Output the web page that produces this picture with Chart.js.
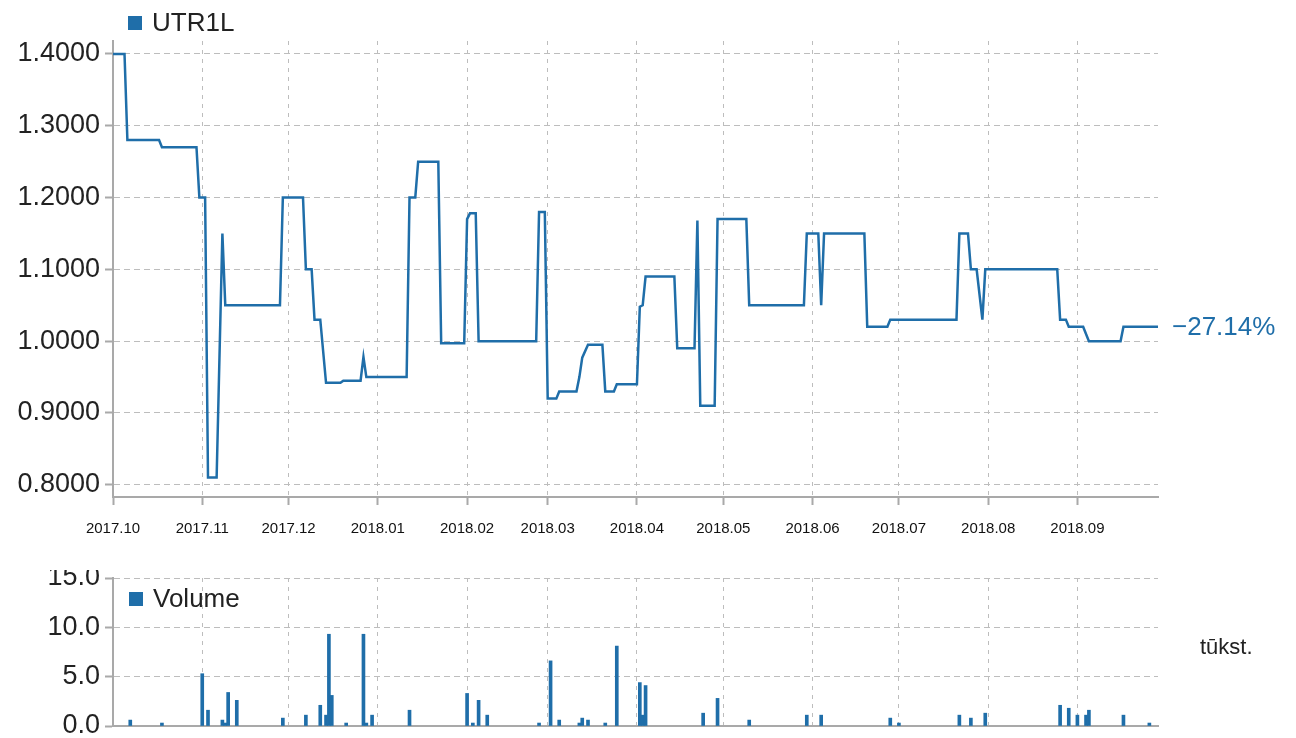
<!DOCTYPE html>
<html>
<head>
<meta charset="utf-8">
<script src="https://cdn.jsdelivr.net/npm/chart.js@4.4.0/dist/chart.umd.min.js"></script>
<style>
  html, body { margin: 0; padding: 0; background: #fff; }
  #top { position: absolute; left: 0; top: 0; width: 1296px; height: 560px; }
  #bottom { position: absolute; left: 0; top: 570px; width: 1296px; height: 168px; }
</style>
</head>
<body>
<div id="top"><canvas id="priceChart"></canvas></div>
<div id="bottom"><canvas id="volumeChart"></canvas></div>
<script>
// --- data ---
const priceDates = [
    '2017-10-01', '2017-10-05', '2017-10-06', '2017-10-17', '2017-10-18', '2017-10-30', '2017-10-31',
    '2017-11-02', '2017-11-03', '2017-11-06', '2017-11-08', '2017-11-09', '2017-11-28', '2017-11-29',
    '2017-12-06', '2017-12-07', '2017-12-09', '2017-12-10', '2017-12-12', '2017-12-14', '2017-12-19',
    '2017-12-20', '2017-12-26', '2017-12-27', '2017-12-28', '2018-01-11', '2018-01-12', '2018-01-14',
    '2018-01-15', '2018-01-22', '2018-01-23', '2018-01-31', '2018-02-01', '2018-02-02', '2018-02-04',
    '2018-02-05', '2018-02-25', '2018-02-26', '2018-02-28', '2018-03-01', '2018-03-04', '2018-03-05',
    '2018-03-11', '2018-03-12', '2018-03-13', '2018-03-15', '2018-03-20', '2018-03-21', '2018-03-24',
    '2018-03-25', '2018-04-01', '2018-04-02', '2018-04-03', '2018-04-04', '2018-04-14', '2018-04-15',
    '2018-04-21', '2018-04-22', '2018-04-23', '2018-04-28', '2018-04-29', '2018-05-09', '2018-05-10',
    '2018-05-29', '2018-05-30', '2018-06-03', '2018-06-04', '2018-06-05', '2018-06-19', '2018-06-20',
    '2018-06-27', '2018-06-28', '2018-07-21', '2018-07-22', '2018-07-25', '2018-07-26', '2018-07-28',
    '2018-07-30', '2018-07-31', '2018-08-25', '2018-08-26', '2018-08-28', '2018-08-29', '2018-09-03',
    '2018-09-05', '2018-09-16', '2018-09-17', '2018-09-29'
];
const priceValues = [
    1.40, 1.40, 1.28, 1.28, 1.27, 1.27, 1.20,
    1.20, 0.81, 0.81, 1.15, 1.05, 1.05, 1.20,
    1.20, 1.10, 1.10, 1.03, 1.03, 0.942, 0.942,
    0.945, 0.945, 0.978, 0.95, 0.95, 1.20, 1.20,
    1.25, 1.25, 0.997, 0.997, 1.17, 1.178, 1.178,
    1.00, 1.00, 1.18, 1.18, 0.92, 0.92, 0.93,
    0.93, 0.95, 0.977, 0.995, 0.995, 0.93, 0.93,
    0.94, 0.94, 1.048, 1.05, 1.09, 1.09, 0.99,
    0.99, 1.168, 0.91, 0.91, 1.17, 1.17, 1.05,
    1.05, 1.15, 1.15, 1.05, 1.15, 1.15, 1.02,
    1.02, 1.03, 1.03, 1.15, 1.15, 1.10, 1.10,
    1.03, 1.10, 1.10, 1.03, 1.03, 1.02, 1.02,
    1.00, 1.00, 1.02, 1.02
];

const volumeDates = [
    '2017-10-07', '2017-10-18', '2017-11-01', '2017-11-03', '2017-11-08', '2017-11-09', '2017-11-10',
    '2017-11-13', '2017-11-29', '2017-12-07', '2017-12-12', '2017-12-14', '2017-12-15', '2017-12-16',
    '2017-12-21', '2017-12-27', '2017-12-28', '2017-12-30', '2018-01-12', '2018-02-01', '2018-02-03',
    '2018-02-05', '2018-02-08', '2018-02-26', '2018-03-02', '2018-03-05', '2018-03-12', '2018-03-13',
    '2018-03-15', '2018-03-21', '2018-03-25', '2018-04-02', '2018-04-03', '2018-04-04', '2018-04-24',
    '2018-04-29', '2018-05-10', '2018-05-30', '2018-06-04', '2018-06-28', '2018-07-01', '2018-07-22',
    '2018-07-26', '2018-07-31', '2018-08-26', '2018-08-29', '2018-09-01', '2018-09-04', '2018-09-05',
    '2018-09-17', '2018-09-26'
];
const volumeValues = [
    0.6, 0.3, 5.3, 1.6, 0.6, 0.3, 3.4,
    2.6, 0.8, 1.1, 2.1, 1.1, 9.3, 3.1,
    0.3, 9.3, 0.3, 1.1, 1.6, 3.3, 0.3,
    2.6, 1.1, 0.3, 6.6, 0.6, 0.3, 0.8,
    0.6, 0.3, 8.1, 4.4, 1.1, 4.1, 1.3,
    2.8, 0.6, 1.1, 1.1, 0.8, 0.3, 1.1,
    0.8, 1.3, 2.1, 1.8, 1.1, 1.1, 1.6,
    1.1, 0.3
];

const monthTicks = ['2017-10-01', '2017-11-01', '2017-12-01', '2018-01-01', '2018-02-01', '2018-03-01',
                    '2018-04-01', '2018-05-01', '2018-06-01', '2018-07-01', '2018-08-01', '2018-09-01'];
const monthLabels = ['2017.10', '2017.11', '2017.12', '2018.01', '2018.02', '2018.03',
                     '2018.04', '2018.05', '2018.06', '2018.07', '2018.08', '2018.09'];
const priceTicks = [0.8, 0.9, 1.0, 1.1, 1.2, 1.3, 1.4];
const volumeTicks = [0, 5, 10, 15];

const startDate = '2017-10-01';
const endDate = '2018-09-29';

// --- helpers ---
const FONT = '"Liberation Sans", Arial, Helvetica, sans-serif';
const BLUE = '#1f6ea9';
const AXIS = '#a9a9a9';
const GRID = '#bdbdbd';

function dayOf(d) {
    return (Date.parse(d) - Date.parse(startDate)) / 86400000;
}

Chart.defaults.font.family = FONT;

// square + dataset name, placed relative to the plot area
const boxLegend = {
    id: 'boxLegend',
    afterDraw(chart, args, opts) {
        const { ctx, chartArea } = chart;
        const x = chartArea.left + opts.dx;
        const y = chartArea.top + opts.dy;
        ctx.save();
        ctx.fillStyle = BLUE;
        ctx.fillRect(x, y - 7, 14, 14);
        ctx.fillStyle = '#222';
        ctx.font = '26px ' + FONT;
        ctx.textBaseline = 'middle';
        ctx.fillText(chart.data.datasets[0].label, x + 24, y + 1);
        ctx.restore();
    }
};

// percentage change printed next to the last price
const changeLabel = {
    id: 'changeLabel',
    afterDraw(chart) {
        const { ctx, chartArea, scales } = chart;
        const first = priceValues[0];
        const last = priceValues[priceValues.length - 1];
        const pct = ((last / first) - 1) * 100;
        const text = (pct < 0 ? '\u2212' : '+') + Math.abs(pct).toFixed(2) + '%';
        ctx.save();
        ctx.fillStyle = BLUE;
        ctx.font = '26px ' + FONT;
        ctx.textBaseline = 'middle';
        ctx.fillText(text, chartArea.right + 14, scales.y.getPixelForValue(last) + 1);
        ctx.restore();
    }
};

// unit text to the right of the volume chart
const unitLabel = {
    id: 'unitLabel',
    afterDraw(chart) {
        const { ctx, chartArea } = chart;
        ctx.save();
        ctx.fillStyle = '#222';
        ctx.font = '22px ' + FONT;
        ctx.textBaseline = 'middle';
        ctx.fillText('tūkst.', chartArea.right + 42, chartArea.top + 70);
        ctx.restore();
    }
};

function monthAxis(showLabels) {
    return {
        type: 'linear',
        min: 0,
        max: dayOf(endDate),
        offset: false,
        afterBuildTicks: function(scale) {
            scale.ticks = monthTicks.map(d => ({ value: dayOf(d) }));
        },
        ticks: {
            display: showLabels,
            autoSkip: false,
            maxRotation: 0,
            padding: 15,
            color: '#111',
            font: { size: 15 },
            callback: function(value, index) {
                return monthLabels[index];
            }
        },
        grid: {
            offset: false,
            color: GRID,
            lineWidth: 1,
            drawTicks: showLabels,
            tickLength: 8,
            tickColor: AXIS,
            tickWidth: 2,
            tickBorderDash: []
        },
        border: { color: AXIS, width: 2, dash: [4, 5] },
        afterFit: function(scale) {
            scale.height = showLabels ? 63 : 0;
        }
    };
}

function valueAxis(min, max, ticks, digits) {
    return {
        min: min,
        max: max,
        afterBuildTicks: function(scale) {
            scale.ticks = ticks.map(v => ({ value: v }));
        },
        ticks: {
            padding: 5,
            color: '#222',
            font: { size: 27, lineHeight: 1 },
            callback: function(value) {
                return value.toFixed(digits);
            }
        },
        grid: {
            color: GRID,
            lineWidth: 1,
            tickLength: 8,
            tickColor: AXIS,
            tickWidth: 2,
            tickBorderDash: []
        },
        border: { color: AXIS, width: 2, dash: [6, 4] },
        afterFit: function(scale) {
            scale.width = 113;
            scale.paddingTop = 0;
            scale.paddingBottom = 0;
        }
    };
}

// --- price chart ---
new Chart(document.getElementById('priceChart'), {
    type: 'line',
    data: {
        datasets: [{
            label: 'UTR1L',
            data: priceDates.map((d, i) => ({ x: dayOf(d), y: priceValues[i] })),
            borderColor: BLUE,
            borderWidth: 2.5,
            pointRadius: 0,
            tension: 0,
            fill: false
        }]
    },
    options: {
        animation: false,
        responsive: true,
        maintainAspectRatio: false,
        layout: { padding: { left: 0, right: 138, top: 41, bottom: 0 } },
        plugins: {
            legend: { display: false },
            tooltip: { enabled: false },
            boxLegend: { dx: 15, dy: -18 }
        },
        scales: {
            x: monthAxis(true),
            y: valueAxis(0.783, 1.418, priceTicks, 4)
        }
    },
    plugins: [boxLegend, changeLabel]
});

// --- volume chart ---
new Chart(document.getElementById('volumeChart'), {
    type: 'bar',
    data: {
        datasets: [{
            label: 'Volume',
            data: volumeDates.map((d, i) => ({ x: dayOf(d), y: volumeValues[i] })),
            backgroundColor: BLUE,
            barThickness: 3,
            borderWidth: 0
        }]
    },
    options: {
        animation: false,
        responsive: true,
        maintainAspectRatio: false,
        layout: { padding: { left: 0, right: 138, top: 8, bottom: 12 } },
        plugins: {
            legend: { display: false },
            tooltip: { enabled: false },
            boxLegend: { dx: 16, dy: 21 }
        },
        scales: {
            x: monthAxis(false),
            y: valueAxis(0, 15, volumeTicks, 1)
        }
    },
    plugins: [boxLegend, unitLabel]
});
</script>
</body>
</html>
